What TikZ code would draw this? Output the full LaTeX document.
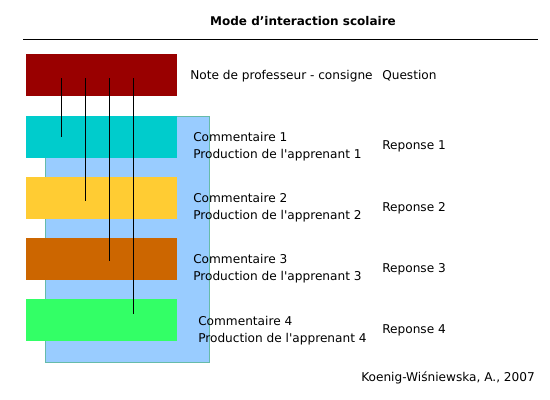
\documentclass[tikz,border=0pt]{standalone}
\usepackage{fontspec}
\newfontfamily\vfont{DejaVu Sans}
\definecolor{cRed}{HTML}{990000}
\definecolor{cCyan}{HTML}{00CCCC}
\definecolor{cYel}{HTML}{FFCC33}
\definecolor{cOra}{HTML}{CC6600}
\definecolor{cGre}{HTML}{33FF66}
\definecolor{cBlue}{HTML}{99CCFF}
\definecolor{cEdge}{HTML}{66BBAA}
\newlength{\pxu}\setlength{\pxu}{0.75pt}
\tikzset{
  bar/.style={minimum width=151\pxu, minimum height=42\pxu, inner sep=0pt, anchor=north west},
  lbl/.style={font=\vfont\fontsize{9.1}{12.75}\selectfont, inner sep=0pt, anchor=west, align=left},
  link/.style={line width=0.75pt, black},
}
\begin{document}
\begin{tikzpicture}[x=0.75pt,y=-0.75pt]
\useasboundingbox (0,0) rectangle (550,400);
% title
\node[font=\vfont\bfseries\fontsize{9}{11}\selectfont, inner sep=0pt] (title) at (303,21) {Mode d’interaction scolaire};
\coordinate (hl) at (23,39); \coordinate (hr) at (538,39);
\draw[line width=0.75pt] (hl) -- (hr);
% background blue
\node[draw=cEdge, line width=0.5pt, fill=cBlue, minimum width=164\pxu, minimum height=246\pxu, inner sep=0pt, anchor=north west] (bg) at (45,116) {};
% bars
\node[bar, fill=cRed] (b0) at (26,54) {};
\node[bar, fill=cCyan] (b1) at (26,116) {};
\node[bar, fill=cYel] (b2) at (26,177) {};
\node[bar, fill=cOra] (b3) at (26,238) {};
\node[bar, fill=cGre] (b4) at (26,299) {};
% link lines
\coordinate (t1) at (61,78); \coordinate (e1) at (61,137);
\coordinate (t2) at (85,78); \coordinate (e2) at (85,201);
\coordinate (t3) at (109,78); \coordinate (e3) at (109,261);
\coordinate (t4) at (133,78); \coordinate (e4) at (133,314);
\draw[link] (t1) -- (e1);
\draw[link] (t2) -- (e2);
\draw[link] (t3) -- (e3);
\draw[link] (t4) -- (e4);
% labels
\node[lbl] (n0) at (190,76) {Note de professeur - consigne};
\node[lbl] (q0) at (382,76) {Question};
\node[lbl] (c1) at (193,147) {Commentaire 1\\Production de l\char39 apprenant 1};
\node[lbl] (r1) at (382,146) {Reponse 1};
\node[lbl] (c2) at (193,208) {Commentaire 2\\Production de l\char39 apprenant 2};
\node[lbl] (r2) at (382,208) {Reponse 2};
\node[lbl] (c3) at (193,269) {Commentaire 3\\Production de l\char39 apprenant 3};
\node[lbl] (r3) at (382,269) {Reponse 3};
\node[lbl] (c4) at (198,331) {Commentaire 4\\Production de l\char39 apprenant 4};
\node[lbl] (r4) at (382,330) {Reponse 4};
\node[lbl] (cit) at (361,378) {Koenig-Wiśniewska, A., 2007};
\end{tikzpicture}
\end{document}
